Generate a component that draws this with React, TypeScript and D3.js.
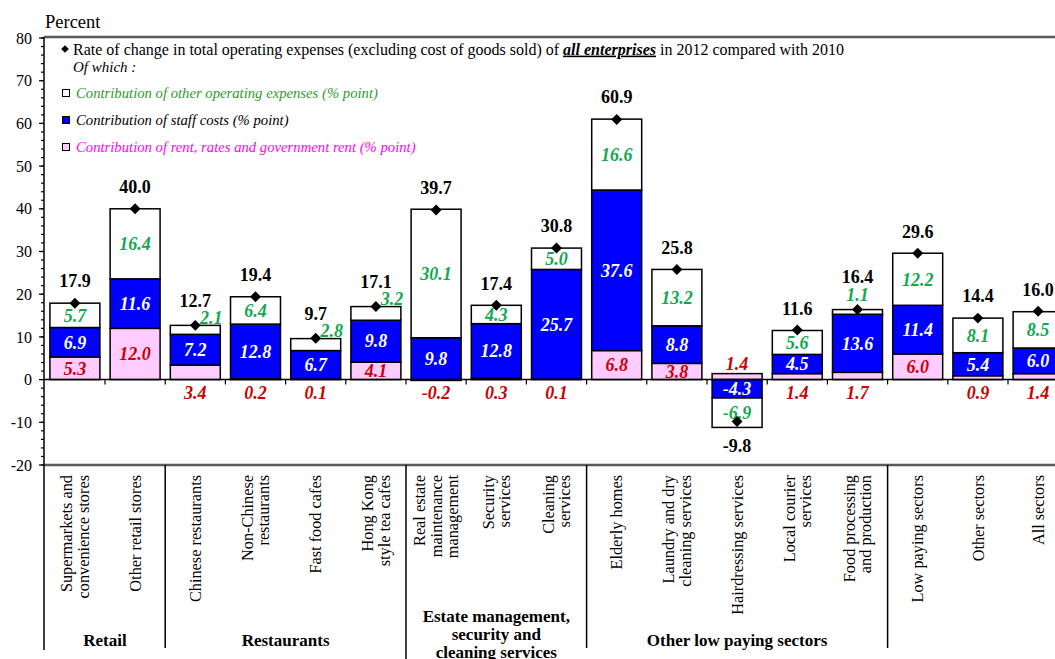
import * as d3 from 'd3'

// categories (label lines) in display order
const categories = [
  ['Supermarkets and', 'convenience stores'],
  ['Other retail stores'],
  ['Chinese restaurants'],
  ['Non-Chinese', 'restaurants'],
  ['Fast food cafes'],
  ['Hong Kong', 'style tea cafes'],
  ['Real estate', 'maintenance', 'management'],
  ['Security', 'services'],
  ['Cleaning', 'services'],
  ['Elderly homes'],
  ['Laundry and dry', 'cleaning services'],
  ['Hairdressing services'],
  ['Local courier', 'services'],
  ['Food processing', 'and production'],
  ['Low paying sectors'],
  ['Other sectors'],
  ['All sectors'],
]

const rent = [5.3, 12.0, 3.4, 0.2, 0.1, 4.1, -0.2, 0.3, 0.1, 6.8, 3.8, 1.4, 1.4, 1.7, 6.0, 0.9, 1.4]
const staff = [6.9, 11.6, 7.2, 12.8, 6.7, 9.8, 9.8, 12.8, 25.7, 37.6, 8.8, -4.3, 4.5, 13.6, 11.4, 5.4, 6.0]
const other = [5.7, 16.4, 2.1, 6.4, 2.8, 3.2, 30.1, 4.3, 5.0, 16.6, 13.2, -6.9, 5.6, 1.1, 12.2, 8.1, 8.5]
const total = [17.9, 40.0, 12.7, 19.4, 9.7, 17.1, 39.7, 17.4, 30.8, 60.9, 25.8, -9.8, 11.6, 16.4, 29.6, 14.4, 16.0]

// groups: [label lines, first index, last index]
const groups: [string[], number, number][] = [
  [['Retail'], 0, 1],
  [['Restaurants'], 2, 5],
  [['Estate management,', 'security and', 'cleaning services'], 6, 8],
  [['Other low paying sectors'], 9, 13],
  [[], 14, 16],
]

const yMajor = ['-20', '-10', '0', '10', '20', '30', '40', '50', '60', '70', '80']

const W = 1055
const H = 659
const SERIF = '"Liberation Serif", "Times New Roman", serif'
const BLUE = '#0000FF'
const PINK = '#FFCCFF'
const GREEN = '#12A850'
const RED = '#CC0000'

export default function App() {
  const x = d3.scaleBand<number>()
    .domain(d3.range(categories.length))
    .range([44.8, 44.8 + 60.2 * categories.length])
    .paddingInner(0.17)
    .paddingOuter(0.085)
  const y = d3.scaleLinear().domain([-20, 80]).range([465, 38])
  const step = x.step()
  const bw = x.bandwidth()
  // left edge of category slot i (i may equal categories.length)
  const edge = (i: number) => x.range()[0] + i * step

  const table = categories.map((_, i) => ({ rent: rent[i], staff: staff[i], other: other[i] }))
  const keys = ['rent', 'staff', 'other']
  const series = d3.stack<any>().keys(keys).offset(d3.stackOffsetDiverging)(table)
  const fills: Record<string, string> = { rent: PINK, staff: BLUE, other: '#FFFFFF' }

  const diamond = d3.symbol(d3.symbolSquare, 60)()!
  const diamondSmall = d3.symbol(d3.symbolSquare, 30)()!

  const labelStyle = { fontFamily: SERIF, fontWeight: 'bold', fontStyle: 'italic', fontSize: 18 }

  return (
    <svg width={W} height={H} style={{ position: 'absolute', left: 0, top: 0, background: '#fff' }}>
      {/* frame lines */}
      <line x1={44} x2={W} y1={37} y2={37} stroke="#5a5a5a" strokeWidth={2.5} />
      <line x1={44} x2={W} y1={465} y2={465} stroke="#5a5a5a" strokeWidth={2.5} />
      <text x={45} y={28} fontFamily={SERIF} fontSize={18.5}>Percent</text>

      {/* y axis */}
      <line x1={44} x2={44} y1={37} y2={650} stroke="#000" strokeWidth={1.5} />
      {d3.range(-20, 81, 2).map(v => (
        <line key={'m' + v} x1={41} x2={44} y1={y(v)} y2={y(v)} stroke="#000" strokeWidth={1.2} />
      ))}
      {yMajor.map(t => (
        <g key={'t' + t} transform={`translate(0,${y(+t)})`}>
          <line x1={39} x2={44} stroke="#000" strokeWidth={1.2} />
          <text x={32} dy="0.35em" textAnchor="end" fontFamily={SERIF} fontSize={16}>{t}</text>
        </g>
      ))}

      {/* bars */}
      {series.map(s => (
        <g key={s.key}>
          {s.map((d, i) => (
            <rect key={i} x={x(i)} width={bw} y={y(Math.max(d[0], d[1]))}
              height={Math.abs(y(d[0]) - y(d[1]))} fill={fills[s.key]} stroke="#000" strokeWidth={1.5} />
          ))}
        </g>
      ))}

      {/* zero line and category ticks */}
      <line x1={44} x2={W} y1={y(0)} y2={y(0)} stroke="#000" strokeWidth={1.5} />
      {d3.range(1, categories.length).map(i => (
        <line key={'ct' + i} x1={edge(i)} x2={edge(i)} y1={y(0)} y2={y(0) + 5} stroke="#000" strokeWidth={1.2} />
      ))}

      {/* value labels */}
      {categories.map((_, i) => {
        const cx = x(i)! + bw / 2
        const segs = series.map(s => s[i])
        const top = d3.max(segs, d => Math.max(d[0], d[1]))!
        const bottom = d3.min(segs, d => Math.min(d[0], d[1]))!
        const mid = (d: any) => y((d[0] + d[1]) / 2)
        const out: any[] = []
        // staff
        out.push(<text key="s" x={cx} y={mid(segs[1])} dy="0.35em" textAnchor="middle" fill="#fff" {...labelStyle}>{staff[i].toFixed(1)}</text>)
        // rent
        let ry: number
        if (total[i] < 0) ry = y(segs[0][1]) - 10
        else if (Math.abs(rent[i]) >= 3.5) ry = mid(segs[0])
        else ry = y(0) + 13
        out.push(<text key="r" x={cx} y={ry} dy="0.35em" textAnchor="middle" fill={RED} {...labelStyle}>{rent[i].toFixed(1)}</text>)
        // other
        let ox = cx, oy: number
        const small = Math.abs(other[i]) < 2
        const side = !small && Math.abs(other[i]) < 3.5
        if (!small && !side) oy = mid(segs[2])
        else if (side) { ox = cx + 16; oy = y(top) - 8 }
        else oy = y(top) - 15
        out.push(<text key="o" x={ox} y={oy} dy="0.35em" textAnchor="middle" fill={GREEN} {...labelStyle}>{other[i].toFixed(1)}</text>)
        // total
        const ty = total[i] < 0 ? y(bottom) + 18 : y(top) - (small ? 33 : side ? 25 : 22)
        out.push(<text key="t" x={cx} y={ty} dy="0.35em" textAnchor="middle" fontFamily={SERIF} fontWeight="bold" fontSize={18}>{total[i].toFixed(1)}</text>)
        out.push(<path key="d" d={diamond} transform={`translate(${cx},${y(total[i])}) rotate(45)`} fill="#000" />)
        return <g key={'l' + i}>{out}</g>
      })}

      {/* category labels */}
      {categories.map((lines, i) => {
        const cx = x(i)! + bw / 2
        return lines.map((t, j) => (
          <text key={`c${i}-${j}`} transform={`translate(${cx + (j - (lines.length - 1) / 2) * 16.5},475) rotate(-90)`}
            dy="0.35em" textAnchor="end" fontFamily={SERIF} fontSize={16.3}>{t}</text>
        ))
      })}

      {/* group separators and labels */}
      {groups.slice(1).map(([, s]) => (
        <line key={'g' + s} x1={edge(s)} x2={edge(s)} y1={465} y2={s === 6 ? H : 648} stroke="#000" strokeWidth={1.5} />
      ))}
      {groups.map(([lines, s, e]) => {
        const cx = (edge(s) + edge(e + 1)) / 2
        const y0 = lines.length > 1 ? 616 : 640
        return lines.map((t, j) => (
          <text key={`gl${s}-${j}`} x={cx} y={y0 + j * 18} dy="0.35em" textAnchor="middle" fontFamily={SERIF} fontWeight="bold" fontSize={17}>{t}</text>
        ))
      })}

      {/* legend */}
      <path d={diamondSmall} transform="translate(65,49) rotate(45)" fill="#000" />
      <text x={73} y={49} dy="0.35em" fontFamily={SERIF} fontSize={16}>
        Rate of change in total operating expenses (excluding cost of goods sold) of{' '}
        <tspan fontWeight="bold" fontStyle="italic" textDecoration="underline">all enterprises</tspan>
        {' '}in 2012 compared with 2010
      </text>
      <text x={73} y={67} dy="0.35em" fontFamily={SERIF} fontStyle="italic" fontSize={15}>Of which :</text>
      {[
        ['#FFFFFF', '#2E9B2E', 'Contribution of other operating expenses (% point)'],
        [BLUE, '#000', 'Contribution of staff costs (% point)'],
        [PINK, '#FF00FF', 'Contribution of rent, rates and government rent (% point)'],
      ].map(([f, c, t], k) => (
        <g key={'lg' + k}>
          <rect x={62.5} y={89.5 + k * 27} width={7} height={7} fill={f} stroke="#000" strokeWidth={1} />
          <text x={76} y={93 + k * 27} dy="0.35em" fontFamily={SERIF} fontStyle="italic" fontSize={14.7} fill={c}>{t}</text>
        </g>
      ))}
    </svg>
  )
}
